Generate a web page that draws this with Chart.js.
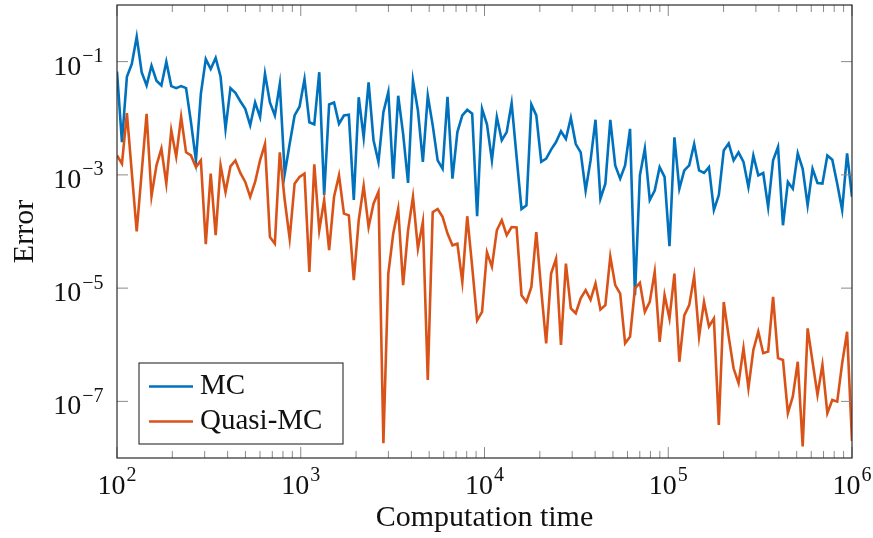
<!DOCTYPE html>
<html>
<head>
<meta charset="utf-8">
<script src="https://cdn.jsdelivr.net/npm/chart.js@4.4.1/dist/chart.umd.min.js"></script>
<style>
  html, body { margin: 0; padding: 0; background: #ffffff; }
  #wrap { width: 873px; height: 538px; }
</style>
</head>
<body>
<div id="wrap"><canvas id="chart" width="873" height="538"></canvas></div>
<script>
// Computation time of each run
const times = [
  100, 106.4, 113.2, 120.4, 128.0, 136.2, 144.9, 154.1, 164.0, 174.4,
  185.5, 197.4, 210.0, 223.4, 237.6, 252.7, 268.9, 286.0, 304.2, 323.6,
  344.3, 366.2, 389.6, 414.4, 440.9, 469.0, 498.9, 530.7, 564.5, 600.5,
  638.8, 679.6, 722.9, 769.0, 818.0, 870.2, 925.7, 984.7, 1048, 1114,
  1185, 1261, 1341, 1427, 1518, 1615, 1718, 1827, 1944, 2068,
  2200, 2340, 2489, 2648, 2817, 2996, 3187, 3391, 3607, 3837,
  4081, 4342, 4619, 4913, 5226, 5560, 5914, 6291, 6693, 7119,
  7573, 8056, 8570, 9117, 9698, 10314, 10972, 11672, 12416, 13208,
  14050, 14946, 15899, 16913, 17992, 19139, 20360, 21658, 23039, 24508,
  26071, 27734, 29502, 31384, 33385, 35514, 37779, 40188, 42751, 45477,
  48377, 51462, 54744, 58235, 61949, 65900, 70102, 74573, 79328, 84387,
  89769, 95494, 101560, 108040, 114930, 122260, 130050, 138350, 147170, 156550,
  166540, 177160, 188460, 200470, 213260, 226860, 241330, 256720, 273090, 290500,
  309030, 328740, 349700, 372000, 395730, 420960, 447810, 476370, 506750, 539070,
  573450, 610020, 648920, 690300, 734320, 781150, 830970, 883960, 940330, 1000000
];

// Error of plain Monte Carlo
const mcError = [
  6.7e-2, 3.8e-3, 5.4e-2, 9.1e-2, 2.76e-1, 6.5e-2, 3.8e-2, 8.5e-2, 4.6e-2, 3.8e-2,
  1.0e-1, 3.7e-2, 3.4e-2, 3.7e-2, 3.4e-2, 8.5e-3, 1.8e-3, 2.7e-2, 1.11e-1, 7.4e-2,
  1.16e-1, 5.4e-2, 6.5e-3, 3.4e-2, 2.8e-2, 2.0e-2, 1.47e-2, 7.5e-3, 1.9e-2, 1.05e-2,
  6.1e-2, 1.9e-2, 1.12e-2, 4.0e-2, 1.05e-3, 3.5e-3, 1.12e-2, 1.6e-2, 4.9e-2, 8.5e-3,
  7.8e-3, 6.5e-2, 4.4e-4, 1.75e-2, 1.9e-2, 8.0e-3, 1.12e-2, 1.15e-2, 3.6e-4, 2.35e-2,
  4.6e-3, 4.3e-2, 4.1e-3, 1.7e-3, 1.28e-2, 2.9e-2, 8.6e-4, 2.5e-2, 5.3e-3, 7.2e-4,
  4.6e-2, 1.37e-2, 1.7e-3, 2.5e-2, 7.5e-3, 1.8e-3, 1.28e-3, 2.4e-2, 8.6e-4, 5.7e-3,
  1.12e-2, 1.41e-2, 1.2e-2, 1.86e-4, 1.47e-2, 7.8e-3, 1.8e-3, 1.05e-2, 4.1e-3, 5.7e-3,
  1.84e-2, 2.1e-3, 2.5e-4, 2.9e-4, 1.75e-2, 1.12e-2, 1.7e-3, 1.93e-3, 2.8e-3, 3.8e-3,
  5.9e-3, 4.3e-3, 1.02e-2, 3.5e-3, 2.5e-3, 5.3e-4, 1.8e-3, 9.4e-3, 3.8e-4, 7.0e-4,
  9.4e-3, 1.47e-3, 8.6e-4, 1.47e-3, 6.5e-3, 7.5e-6, 9.8e-4, 2.9e-3, 3.6e-4, 5.3e-4,
  1.37e-3, 9.2e-4, 5.5e-5, 4.6e-3, 5.7e-4, 1.2e-3, 1.47e-3, 3.5e-3, 1.2e-3, 1.08e-3,
  1.37e-3, 2.4e-4, 4.4e-4, 2.7e-3, 3.6e-3, 1.8e-3, 2.5e-3, 1.7e-3, 6.1e-4, 2.2e-3,
  9.8e-4, 1.08e-3, 2.7e-4, 1.8e-3, 3.1e-3, 1.29e-4, 7.5e-4, 5.7e-4, 2.4e-3, 1.28e-3,
  2.9e-4, 1.28e-3, 7.2e-4, 7.0e-4, 2.2e-3, 1.85e-3, 7.0e-4, 2.4e-4, 2.4e-3, 4.1e-4
];

// Error of quasi-Monte Carlo
const qmcError = [
  2.2e-3, 1.57e-3, 1.23e-2, 1.1e-3, 1.0e-4, 1.1e-3, 1.2e-2, 4.2e-4, 1.47e-3, 2.9e-3,
  7.0e-4, 6.1e-3, 2.1e-3, 1.05e-2, 2.5e-3, 2.2e-3, 1.37e-3, 1.8e-3, 6.0e-5, 1.05e-3,
  8.6e-5, 1.47e-3, 5.0e-4, 1.41e-3, 1.8e-3, 1.08e-3, 7.5e-4, 4.1e-4, 7.5e-4, 1.8e-3,
  3.5e-3, 8.0e-5, 6.1e-5, 2.5e-3, 3.6e-4, 7.5e-5, 7.0e-4, 9.2e-4, 1.05e-3, 1.94e-5,
  1.53e-3, 1.05e-4, 3.6e-4, 4.7e-5, 4.1e-4, 9.8e-4, 2.07e-4, 1.93e-4, 1.38e-5, 1.58e-4,
  6.4e-4, 1.2e-4, 3.1e-4, 5.0e-4, 1.83e-8, 1.81e-5, 9.2e-5, 2.5e-4, 1.13e-5, 1.05e-4,
  4.1e-4, 5.0e-5, 1.48e-4, 2.4e-7, 2.2e-4, 2.5e-4, 1.81e-4, 9.2e-5, 5.7e-5, 6.1e-5,
  1.29e-5, 1.86e-4, 2.4e-5, 2.7e-6, 3.8e-6, 4.3e-5, 2.4e-5, 1.05e-4, 1.58e-4, 8.6e-5,
  1.2e-4, 1.18e-4, 7.5e-6, 5.7e-6, 1.05e-5, 9.8e-5, 9.2e-6, 1.06e-6, 1.81e-5, 3.3e-5,
  9.9e-7, 2.7e-5, 4.4e-6, 3.6e-6, 6.6e-6, 9.2e-6, 6.2e-6, 1.21e-5, 4.2e-6, 5.0e-6,
  3.6e-5, 1.13e-5, 8.0e-6, 1.06e-6, 1.39e-6, 9.9e-6, 1.24e-5, 3.8e-6, 5.7e-6, 1.94e-5,
  1.13e-6, 7.5e-6, 2.9e-6, 1.81e-5, 5.0e-7, 3.3e-6, 5.0e-6, 1.63e-5, 1.39e-6, 5.7e-6,
  2.1e-6, 2.9e-6, 3.85e-8, 5.7e-6, 1.39e-6, 3.8e-7, 2.1e-7, 8.7e-7, 1.71e-7, 8.1e-7,
  1.7e-6, 7.1e-7, 7.6e-7, 7.0e-6, 5.8e-7, 5.4e-7, 6.2e-8, 1.22e-7, 5.0e-7, 1.6e-8,
  1.95e-6, 5.0e-7, 1.3e-7, 4.4e-7, 6.2e-8, 1.06e-7, 9.9e-8, 4.7e-7, 1.7e-6, 2.0e-8
];

const seriesNames = ['MC', 'Quasi-MC'];
const seriesColors = ['#0072BD', '#D95319'];
const xTickExponents = [2, 3, 4, 5, 6];
const yTickExponents = [-1, -3, -5, -7];
const xAxisTitle = 'Computation time';
const yAxisTitle = 'Error';

const SERIF = '"Liberation Serif", "Times New Roman", serif';
const LABEL_FONT = '28px ' + SERIF;
const EXP_FONT = '20px ' + SERIF;
const TITLE_FONT = '30px ' + SERIF;

// "10" with a raised exponent, anchored centre or right
function drawPower(ctx, exp, anchorX, baseline, align) {
  const base = '10';
  const sup = exp < 0 ? '\u2212' + Math.abs(exp) : String(exp);
  ctx.font = LABEL_FONT;
  const wb = ctx.measureText(base).width;
  ctx.font = EXP_FONT;
  const ws = ctx.measureText(sup).width;
  const total = wb + 1 + ws;
  const x0 = align === 'center' ? anchorX - total / 2 : anchorX - total;
  ctx.textAlign = 'left';
  ctx.textBaseline = 'alphabetic';
  ctx.font = LABEL_FONT;
  ctx.fillText(base, x0, baseline);
  ctx.font = EXP_FONT;
  ctx.fillText(sup, x0 + wb + 1, baseline - 12.5);
}

const axesPlugin = {
  id: 'boxedLogAxes',
  afterDatasetsDraw(chart) {
    const { ctx, chartArea: a, scales } = chart;
    const xs = scales.x, ys = scales.y;
    ctx.save();

    // inward tick marks on all four sides
    ctx.strokeStyle = '#8a8a8a';
    ctx.lineWidth = 1;
    ctx.beginPath();
    const lastExp = xTickExponents[xTickExponents.length - 1];
    for (let e = xTickExponents[0]; e <= lastExp; e++) {
      const px = xs.getPixelForValue(Math.pow(10, e));
      ctx.moveTo(px, a.bottom); ctx.lineTo(px, a.bottom - 11);
      ctx.moveTo(px, a.top); ctx.lineTo(px, a.top + 11);
      if (e === lastExp) break;
      for (let m = 2; m <= 9; m++) {
        const mx = xs.getPixelForValue(m * Math.pow(10, e));
        ctx.moveTo(mx, a.bottom); ctx.lineTo(mx, a.bottom - 7);
        ctx.moveTo(mx, a.top); ctx.lineTo(mx, a.top + 7);
      }
    }
    yTickExponents.forEach(e => {
      const py = ys.getPixelForValue(Math.pow(10, e));
      ctx.moveTo(a.left, py); ctx.lineTo(a.left + 11, py);
      ctx.moveTo(a.right, py); ctx.lineTo(a.right - 11, py);
    });
    ctx.stroke();

    // frame
    ctx.strokeStyle = '#2a2a2a';
    ctx.lineWidth = 1.2;
    ctx.strokeRect(a.left, a.top, a.right - a.left, a.bottom - a.top);

    // tick labels
    ctx.fillStyle = '#111111';
    xTickExponents.forEach(e => {
      drawPower(ctx, e, xs.getPixelForValue(Math.pow(10, e)), a.bottom + 35.5, 'center');
    });
    yTickExponents.forEach(e => {
      drawPower(ctx, e, a.left - 13.5, ys.getPixelForValue(Math.pow(10, e)) + 13, 'right');
    });

    // axis titles
    ctx.font = TITLE_FONT;
    ctx.textAlign = 'center';
    ctx.textBaseline = 'alphabetic';
    ctx.fillText(xAxisTitle, (a.left + a.right) / 2, a.bottom + 68);
    ctx.save();
    ctx.translate(33, (a.top + a.bottom) / 2);
    ctx.rotate(-Math.PI / 2);
    ctx.fillText(yAxisTitle, 0, 0);
    ctx.restore();

    // legend box in the lower left corner
    const lx = a.left + 22, ly = a.bottom - 95, lw = 204, lh = 81;
    ctx.fillStyle = '#ffffff';
    ctx.fillRect(lx, ly, lw, lh);
    ctx.strokeStyle = '#2a2a2a';
    ctx.lineWidth = 1.1;
    ctx.strokeRect(lx, ly, lw, lh);
    chart.data.datasets.forEach((ds, i) => {
      const rowY = ly + 23.5 + i * 35;
      ctx.strokeStyle = ds.borderColor;
      ctx.lineWidth = 2.6;
      ctx.beginPath();
      ctx.moveTo(lx + 10, rowY);
      ctx.lineTo(lx + 54, rowY);
      ctx.stroke();
      ctx.fillStyle = '#111111';
      ctx.font = '29px ' + SERIF;
      ctx.textAlign = 'left';
      ctx.textBaseline = 'alphabetic';
      ctx.fillText(ds.label, lx + 61, rowY + 7.5);
    });

    ctx.restore();
  }
};

new Chart(document.getElementById('chart'), {
  type: 'line',
  data: {
    datasets: [
      {
        label: seriesNames[0],
        data: times.map((t, i) => ({ x: t, y: mcError[i] })),
        borderColor: seriesColors[0],
        borderWidth: 2.6,
        borderJoinStyle: 'miter',
        pointRadius: 0,
        tension: 0,
        fill: false,
        order: 1
      },
      {
        label: seriesNames[1],
        data: times.map((t, i) => ({ x: t, y: qmcError[i] })),
        borderColor: seriesColors[1],
        borderWidth: 2.6,
        borderJoinStyle: 'miter',
        pointRadius: 0,
        tension: 0,
        fill: false,
        order: 0
      }
    ]
  },
  options: {
    responsive: false,
    animation: false,
    devicePixelRatio: 1,
    layout: { padding: { left: 117, top: 5, right: 21, bottom: 80 } },
    plugins: {
      legend: { display: false },
      tooltip: { enabled: false }
    },
    scales: {
      x: { type: 'logarithmic', min: 1e2, max: 1e6, display: false },
      y: { type: 'logarithmic', min: 1e-8, max: 1, display: false }
    }
  },
  plugins: [axesPlugin]
});
</script>
</body>
</html>
